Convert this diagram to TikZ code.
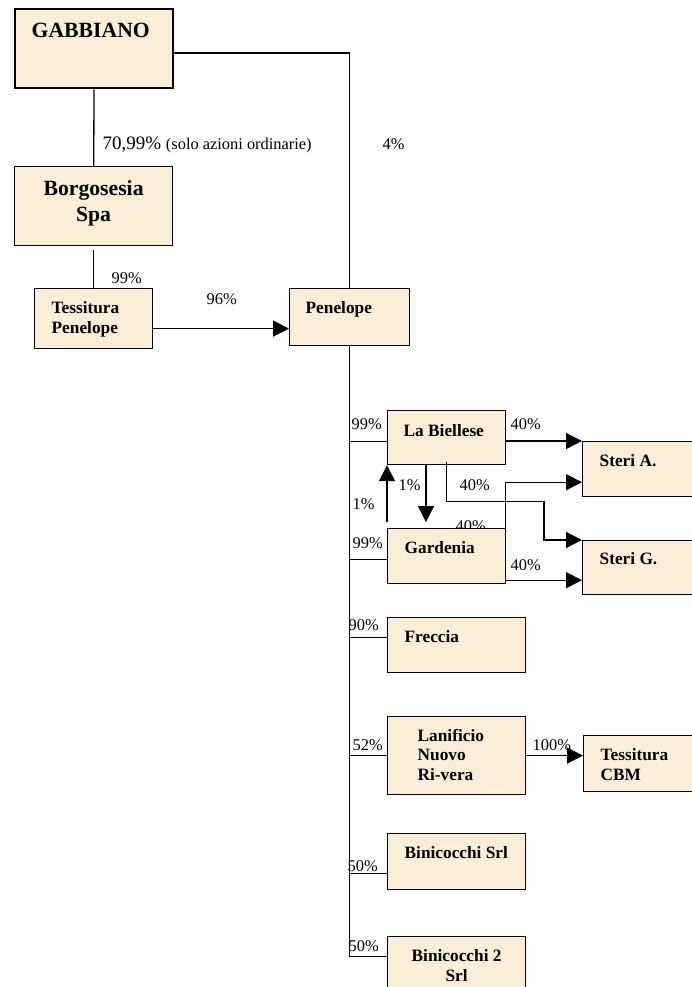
\documentclass[tikz,border=0pt]{standalone}
\usepackage{fontspec}
\setmainfont{Liberation Serif}
\usetikzlibrary{arrows.meta,calc,positioning}
\definecolor{firmfill}{RGB}{251,238,214}
\tikzset{
holding/.style={x=1pt,y=-1pt,line width=1.3pt,>={Triangle[length=16pt,width=16pt]}},
firm/.style={draw,fill=firmfill,anchor=north west,inner sep=0pt,line width=1.2pt},
mainfirm/.style={firm,line width=2.3pt},
firmtext/.style={font=\fontsize{17.3}{19.5}\selectfont\bfseries,inner sep=0pt,anchor=base west,align=left},
bigfirmtext/.style={firmtext,font=\fontsize{21.7}{26}\selectfont\bfseries},
quota/.style={font=\fontsize{16.4}{19}\selectfont,inner sep=0pt,anchor=base west},
}
\begin{document}
\begin{tikzpicture}[holding]
\useasboundingbox (0,0) rectangle (692,987);
\clip (0,0) rectangle (692,987);

% companies
\node[mainfirm,minimum width=158,minimum height=79] (gabbiano) at (14,8) {};
\node[firm,minimum width=158,minimum height=79] (borgosesia) at (14,166) {};
\node[firm,minimum width=118,minimum height=60] (tessitura) at (34,288) {};
\node[firm,minimum width=120,minimum height=57] (penelope) at (289,288) {};
\node[firm,minimum width=118,minimum height=54] (biellese) at (387,410) {};
\node[quota] (q-hidden) at (455,531) {40\%};
\node[firm,minimum width=118,minimum height=55] (gardenia) at (387,528) {};
\node[firm,minimum width=120,minimum height=55] (steria) at (582,441) {};
\node[firm,minimum width=120,minimum height=54] (sterig) at (582,540) {};
\node[firm,minimum width=138,minimum height=55] (freccia) at (387,617) {};
\node[firm,minimum width=138,minimum height=78] (lanificio) at (387,716) {};
\node[firm,minimum width=120,minimum height=56] (cbm) at (583,735) {};
\node[firm,minimum width=138,minimum height=56] (binicocchi) at (387,833) {};
\node[firm,minimum width=138,minimum height=60] (binicocchi2) at (387,936) {};

% names (base = last line)
\node[bigfirmtext] (gabbiano-t) at ($(gabbiano.north west)+(17,30)$) {GABBIANO};
\node[bigfirmtext,anchor=base,align=center] (borgosesia-t) at ($(borgosesia.north)+(0,55)$) {Borgosesia\\Spa};
\node[firmtext] (tessitura-t) at ($(tessitura.north west)+(17,45)$) {Tessitura\\Penelope};
\node[firmtext] (penelope-t) at ($(penelope.north west)+(16,25)$) {Penelope};
\node[firmtext] (biellese-t) at ($(biellese.north west)+(16,26)$) {La Biellese};
\node[firmtext] (gardenia-t) at ($(gardenia.north west)+(17,25)$) {Gardenia};
\node[firmtext] (steria-t) at ($(steria.north west)+(17,25)$) {Steri A.};
\node[firmtext] (sterig-t) at ($(sterig.north west)+(17,24)$) {Steri G.};
\node[firmtext] (freccia-t) at ($(freccia.north west)+(17,25)$) {Freccia};
\node[firmtext] (lanificio-t) at ($(lanificio.north west)+(30,64)$) {Lanificio\\Nuovo\\Ri-vera};
\node[firmtext] (cbm-t) at ($(cbm.north west)+(17,45)$) {Tessitura\\CBM};
\node[firmtext] (binicocchi-t) at ($(binicocchi.north west)+(17,25)$) {Binicocchi Srl};
\node[firmtext,anchor=base,align=center] (binicocchi2-t) at ($(binicocchi2.north)+(0,45)$) {Binicocchi 2\\Srl};

% holdings
\draw (gabbiano) -- (borgosesia);
\draw ($(gabbiano.east)+(0,4.5)$) -| (penelope.north);
\draw[shorten <=4pt] (borgosesia) -- (tessitura);
\draw[->] ($(tessitura.east)+(0,10)$) -- ($(penelope.west)+(0,11.5)$);
\draw[shorten <=3pt] (penelope.south) |- ($(binicocchi2.west)+(0,-10)$);
\draw (penelope.south) |- ($(biellese.west)+(0,4)$);
\draw (penelope.south) |- ($(gardenia.west)+(0,3.5)$);
\draw (penelope.south) |- ($(freccia.west)+(0,-7.5)$);
\draw (penelope.south) |- (lanificio.west);
\draw (penelope.south) |- ($(binicocchi.west)+(0,12)$);
\draw[->] (biellese.east |- steria.north west) -- (steria.north west);
\draw[->] ($(gardenia.north east)+(-1,10)$) |- ($(steria.south west)+(0,-15)$);
\draw[->] ($(biellese.south)+(0,-3)$) -- ($(biellese.south)+(0,36)$)
  -| ($(sterig.north west)+(-38,0)$) -- (sterig.north west);
\draw[->] ($(gardenia.south east)+(0,-4)$) -- ($(sterig.south west)+(0,-15)$);
\draw[->] ($(gardenia.north west)+(0,-6)$) -- (biellese.south west);
\draw[->] ($(biellese.south west)+(39,-1)$) -- ($(gardenia.north west)+(39,-6)$);
\draw[->] (lanificio.east) -- (lanificio.east -| cbm.west);

% shares
\node[quota] (q-borgosesia) at (102,150) {\fontsize{19}{22}\selectfont 70,99\% {\fontsize{16.4}{19}\selectfont(solo azioni ordinarie)}};
\node[quota] (q-penelope-g) at (382,150) {4\%};
\node[quota] (q-tessitura) at (111,283) {99\%};
\node[quota] (q-penelope-t) at (206,304) {96\%};
\node[quota] (q-biellese) at (351,429) {99\%};
\node[quota] (q-steria-b) at (510,429) {40\%};
\node[quota] (q-up) at (352,509) {1\%};
\node[quota] (q-down) at (398,490) {1\%};
\node[quota] (q-sterig-b) at (459,490) {40\%};
\node[quota] (q-gardenia) at (352,548) {99\%};
\node[quota] (q-sterig-g) at (510,570) {40\%};
\node[quota] (q-freccia) at (348,630) {90\%};
\node[quota] (q-lanificio) at (352,750) {52\%};
\node[quota] (q-cbm) at (532,750) {100\%};
\node[quota] (q-binicocchi) at (347,871) {50\%};
\node[quota] (q-binicocchi2) at (348,951) {50\%};
\end{tikzpicture}
\end{document}
